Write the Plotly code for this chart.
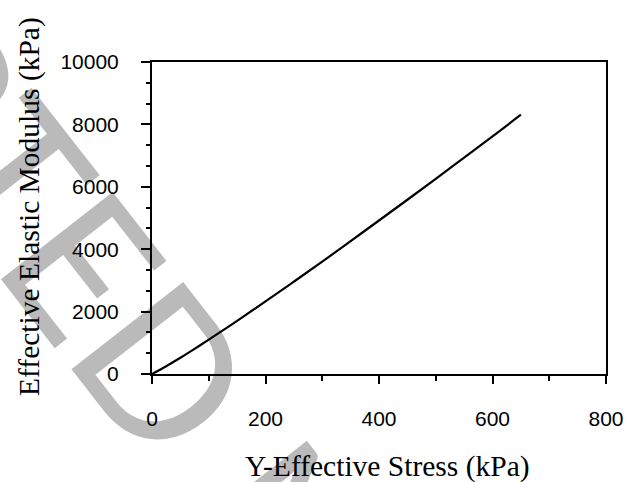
import plotly.graph_objects as go

# Effective elastic modulus vs. effective stress in the Y direction
stress_kpa = [0, 25, 50, 75, 100, 150, 200, 250, 300, 350, 400, 450, 500, 550, 600, 650]
modulus_kpa = [0, 250, 520, 805, 1100, 1705, 2325, 2960, 3600, 4260, 4920, 5585, 6255, 6935, 7615, 8310]

x_ticks = [0, 200, 400, 600, 800]
y_ticks = [0, 2000, 4000, 6000, 8000, 10000]
y_tick_labels = ["0", "2000", "4000", "6000", "8000", "10000"]

W, H = 636, 482
L, R, T, B = 152, 19, 62, 108

fig = go.Figure()
fig.add_trace(go.Scatter(
    x=stress_kpa, y=modulus_kpa, mode="lines",
    line=dict(color="black", width=2.2, shape="spline"),
    showlegend=False, hoverinfo="skip",
))

axis_common = dict(
    showgrid=False, zeroline=False,
    showline=True, linecolor="black", linewidth=2, mirror=True,
    ticks="outside", tickcolor="black", tickwidth=2,
    tickfont=dict(family="Liberation Sans, Arial, sans-serif", size=21, color="black"),
)

fig.update_xaxes(
    range=[0, 800], tickvals=x_ticks, ticklen=8,
    minor=dict(ticks="outside", dtick=100, ticklen=5, tickwidth=2, tickcolor="black"),
    ticklabelstandoff=17,
    **axis_common,
)
fig.update_yaxes(
    range=[0, 10000], tickvals=y_ticks, ticktext=y_tick_labels, ticklen=9,
    minor=dict(ticks="outside", dtick=2000 / 3, ticklen=4, tickwidth=2, tickcolor="black"),
    ticklabelstandoff=18,
    **axis_common,
)

title_font = dict(family="Liberation Serif, Times New Roman, serif", size=29.5, color="black")
plot_w = W - L - R
plot_h = H - T - B

fig.add_annotation(
    text="Y-Effective Stress (kPa)", xref="paper", yref="paper",
    x=(393 - L) / plot_w, y=(H - B - 466) / plot_h,
    showarrow=False, xanchor="center", yanchor="middle", font=title_font,
)
fig.add_annotation(
    text="Effective Elastic Modulus (kPa)", xref="paper", yref="paper",
    x=(26 - L) / plot_w, y=(H - B - 206) / plot_h, textangle=-90,
    showarrow=False, xanchor="center", yanchor="middle", font=title_font,
)

# Diagonal manuscript stamp across the figure
fig.add_annotation(
    text="ACCEPTED MANUSCRIPT", xref="paper", yref="paper",
    x=(314 - L) / plot_w, y=(H - B - 550) / plot_h, textangle=52,
    showarrow=False, xanchor="center", yanchor="middle",
    font=dict(family="Lato, sans-serif", size=198, color="rgba(0,0,0,0.27)", weight=400),
)

fig.update_layout(
    width=W, height=H,
    margin=dict(l=L, r=R, t=T, b=B),
    paper_bgcolor="white", plot_bgcolor="white",
)

fig.write_html("out.html")
